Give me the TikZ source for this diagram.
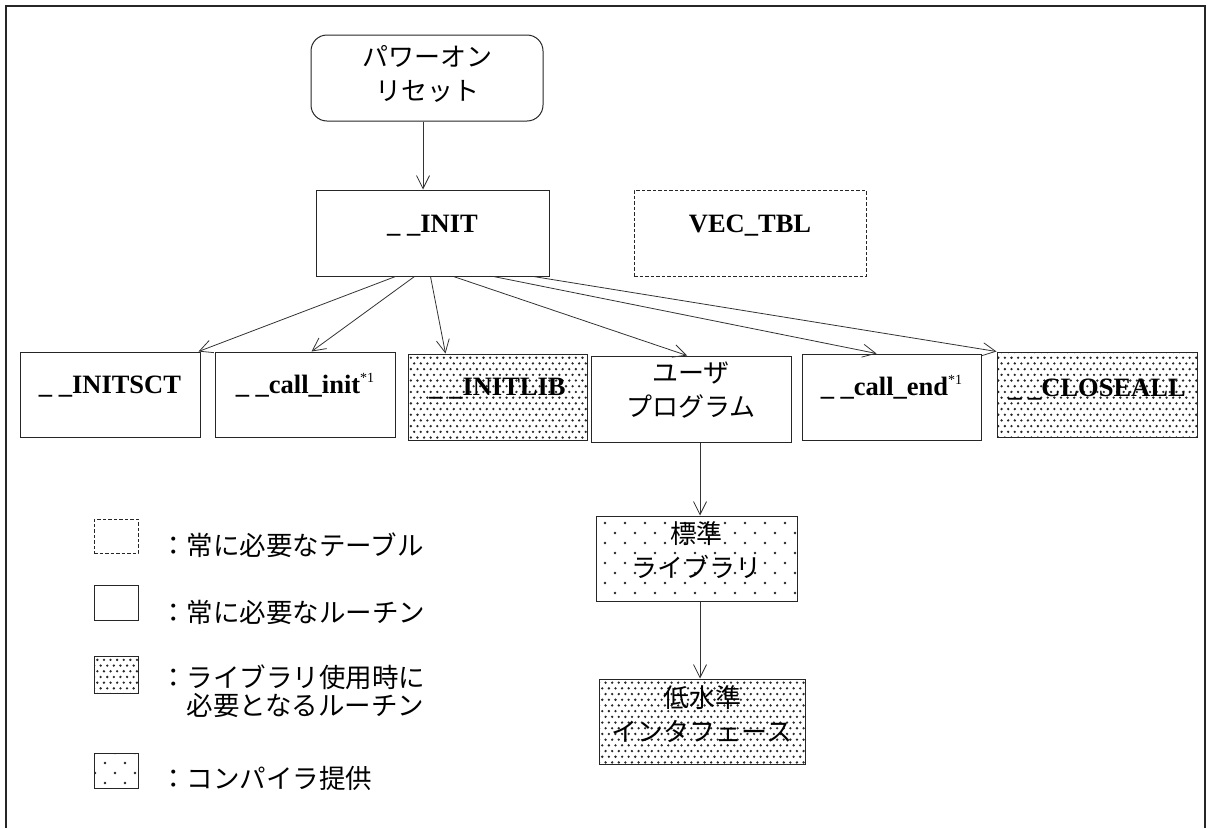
\documentclass[tikz,border=0pt]{standalone}
\usepackage{fontspec}
\setmainfont{Liberation Serif}
\newfontfamily\tnr[BoldFont={Liberation Serif Bold}]{Liberation Serif}
\newfontfamily\jp{Noto Sans CJK JP}
\usetikzlibrary{arrows.meta,patterns.meta,calc}
\tikzdeclarepattern{name=densedots,type=uncolored,bottom left={(-2pt,-2pt)},top right={(9pt,14pt)},tile size={(6.6pt,11.4pt)},code={\fill (1.65pt,2.85pt) circle (1.3pt); \fill (4.95pt,8.55pt) circle (1.3pt);}}
\tikzdeclarepattern{name=sparsedots,type=uncolored,bottom left={(-2pt,-2pt)},top right={(22pt,22pt)},tile size={(20pt,20pt)},code={\fill (5pt,5pt) circle (1.3pt); \fill (15pt,15pt) circle (1.3pt);}}
\newcommand\mysup{\raisebox{11pt}{\tnr\mdseries\fontsize{14}{14}\selectfont *1}}
\begin{document}
\begin{tikzpicture}[x=1pt,y=-1pt,
 box/.style={draw=black!85, line width=1pt, inner sep=0pt, rectangle},
 dashbox/.style={draw=black!85, line width=0.8pt, dash pattern=on 3.5pt off 2pt, inner sep=0pt, rectangle},
 lat/.style={font=\tnr\bfseries\fontsize{26.5}{30}\selectfont, anchor=base, inner sep=0pt},
 jtxt/.style={font=\jp\fontsize{26}{34}\selectfont, align=center, inner sep=0pt},
 arr/.style={draw=black!80, line width=0.8pt, -{Straight Barb[length=13pt,width=13pt]}},
 dense/.style={pattern=densedots, pattern color=black!85},
 sparse/.style={pattern=sparsedots, pattern color=black!85},
]
\useasboundingbox (0,0) rectangle (1212,828);
\draw[line width=1.2pt, black!85] (6,828) -- (6,6) -- (1205,6) -- (1205,828);

% boxes
\node[box, rounded corners=16pt, minimum width=232pt, minimum height=86pt] (pwr) at (427,78) {};
\node[box, minimum width=233pt, minimum height=86pt] (init) at (432.5,233) {};
\node[dashbox, minimum width=232pt, minimum height=86pt] (vec) at (750,233) {};
\node[box, minimum width=180pt, minimum height=85pt] (initsct) at (110,394.5) {};
\node[box, minimum width=180pt, minimum height=85pt] (callinit) at (305,394.5) {};
\node[box, dense, minimum width=179pt, minimum height=86pt] (initlib) at (497.5,397) {};
\node[box, minimum width=200pt, minimum height=86pt] (user) at (691,399) {};
\node[box, minimum width=179pt, minimum height=86pt] (callend) at (891.5,397) {};
\node[box, dense, minimum width=200pt, minimum height=85pt] (closeall) at (1097,394.5) {};
\node[box, sparse, minimum width=201pt, minimum height=85pt] (std) at (696.5,558.5) {};
\node[box, dense, minimum width=206pt, minimum height=85pt] (low) at (702,721.5) {};

% texts
\node[jtxt] (pwrT) at ($(pwr.center)+(0,-4)$) {パワーオン\\リセット};
\node[lat] (initT) at ($(init.north)+(0,43)$) {\_ \_INIT};
\node[lat] (vecT) at ($(vec.north)+(0,43)$) {VEC\_TBL};
\node[lat] (initsctT) at ($(initsct.north)+(0,42)$) {\_ \_INITSCT};
\node[lat] (callinitT) at ($(callinit.north)+(0,42)$) {\_ \_call\_init\mysup};
\node[lat] (initlibT) at ($(initlib.north)+(0,42)$) {\_ \_INITLIB};
\node[jtxt] (userT) at ($(user.center)+(0,-9)$) {ユーザ\\プログラム};
\node[lat] (callendT) at ($(callend.north)+(0,42)$) {\_ \_call\_end\mysup};
\node[lat] (closeallT) at ($(closeall.north)+(0,45)$) {\_ \_CLOSEALL};
\node[jtxt] (stdT) at ($(std.center)+(0,-8)$) {標準\\ライブラリ};
\node[jtxt] (lowT) at ($(low.center)+(0,-7)$) {低水準\\インタフェース};

% arrows
\draw[arr] ([xshift=-4pt]pwr.south) -- ([xshift=-9.5pt]init.north);
\draw[arr] ([xshift=80pt]init.south west) -- ([xshift=-2pt]initsct.north east);
\draw[arr] ([xshift=99pt]init.south west) -- ([xshift=97pt]callinit.north west);
\draw[arr] ([xshift=115pt]init.south west) -- ([xshift=38pt]initlib.north west);
\draw[arr] ([xshift=138pt]init.south west) -- ([xshift=-4pt]user.north);
\draw[arr] ([xshift=178pt]init.south west) -- ([xshift=75pt]callend.north west);
\draw[arr] ([xshift=218pt]init.south west) -- (closeall.north west);
\draw[arr] ([xshift=9pt]user.south) -- ([xshift=3.5pt]std.north);
\draw[arr] ([xshift=3.5pt]std.south) -- ([xshift=-2pt]low.north);

% legend
\node[dashbox, minimum width=44pt, minimum height=34pt] (l1) at (116,536) {};
\node[box, minimum width=44pt, minimum height=35pt] (l2) at (116,602.5) {};
\node[box, dense, minimum width=44pt, minimum height=37pt] (l3) at (116,674.5) {};
\node[box, sparse, minimum width=44pt, minimum height=35pt] (l4) at (116,770.5) {};
\node[jtxt, anchor=west, align=left, font=\jp\fontsize{26.5}{34}\selectfont] (l1T) at (160,545) {：常に必要なテーブル};
\node[jtxt, anchor=west, align=left, font=\jp\fontsize{26.5}{34}\selectfont] (l2T) at (160,612) {：常に必要なルーチン};
\node[jtxt, anchor=west, align=left, font=\jp\fontsize{26.5}{28}\selectfont] (l3T) at (160,691) {：ライブラリ使用時に\\　必要となるルーチン};
\node[jtxt, anchor=west, align=left, font=\jp\fontsize{26.5}{34}\selectfont] (l4T) at (160,778) {：コンパイラ提供};
\end{tikzpicture}
\end{document}
